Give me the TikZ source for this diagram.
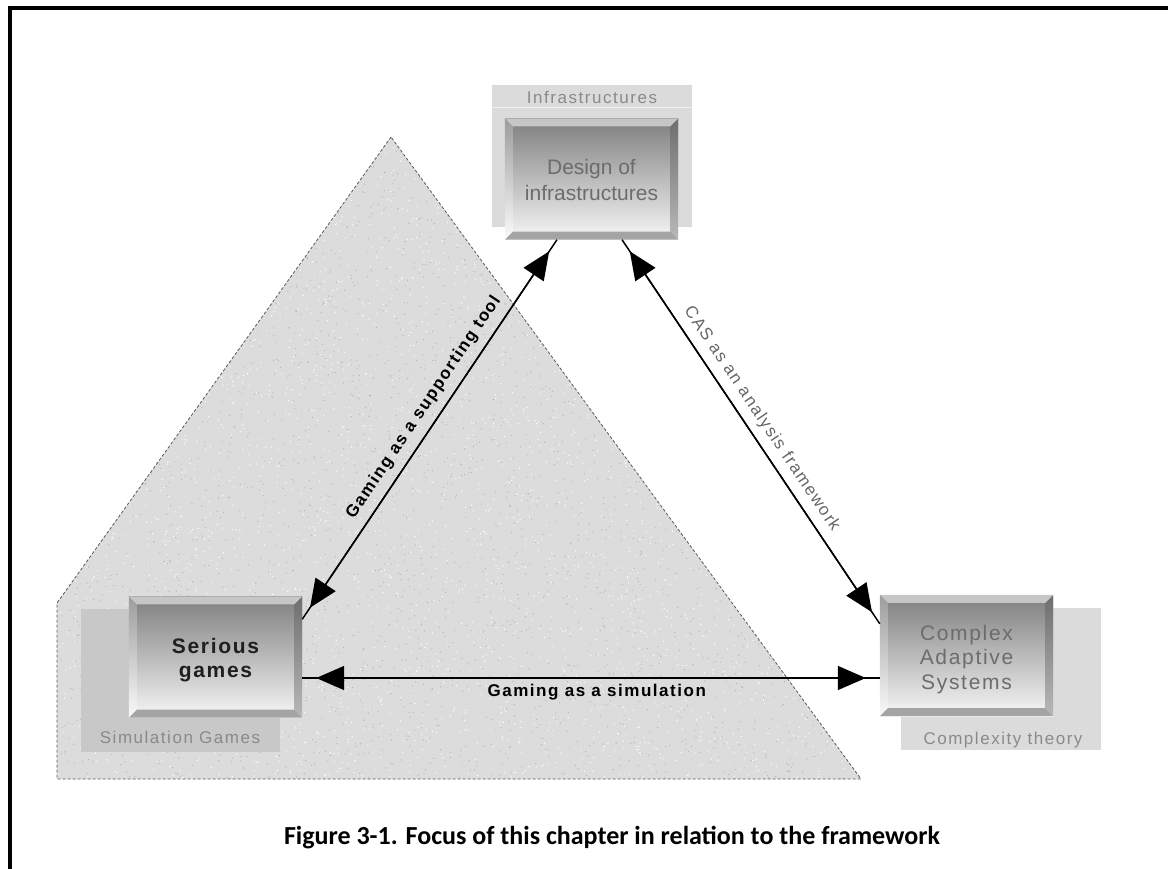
\documentclass[tikz,border=0pt]{standalone}
\usepackage{fontspec}
\setmainfont{Liberation Sans}
\newfontfamily\spaced[LetterSpace=9]{Liberation Sans}
\newfontfamily\spacedb[LetterSpace=8]{Liberation Sans}
\newfontfamily\capfont{Carlito}
\usetikzlibrary{arrows.meta,calc}
\definecolor{facetop}{HTML}{7E7E7E}
\definecolor{facebot}{HTML}{F7F7F7}
\definecolor{bgbox}{HTML}{DBDBDB}
\definecolor{simbg}{HTML}{C8C8C8}
\definecolor{lbl}{HTML}{8A8A8A}
\definecolor{boxtxt}{HTML}{6C6C6C}
\definecolor{noisebase}{HTML}{DCDCDC}
\definecolor{speck}{HTML}{B0B0B0}
\definecolor{bvtop}{HTML}{C6C6C6}
\definecolor{bvbot}{HTML}{A4A4A4}
\definecolor{bvrtop}{HTML}{6E6E6E}
\definecolor{bvrbot}{HTML}{B8B8B8}
\definecolor{bvltop}{HTML}{9C9C9C}
\definecolor{bvlbot}{HTML}{FAFAFA}
\definecolor{dashcol}{HTML}{5A5A5A}
\newcommand\bevelize[1]{%
  \shade[top color=bvltop,bottom color=bvlbot] (#1.north west) -- ([shift={(8pt,-8pt)}]#1.north west) -- ([shift={(8pt,8pt)}]#1.south west) -- (#1.south west) -- cycle;
  \shade[top color=bvrtop,bottom color=bvrbot] (#1.north east) -- ([shift={(-8pt,-8pt)}]#1.north east) -- ([shift={(-8pt,8pt)}]#1.south east) -- (#1.south east) -- cycle;
  \fill[bvtop] (#1.north west) -- (#1.north east) -- ([shift={(-8pt,-8pt)}]#1.north east) -- ([shift={(8pt,-8pt)}]#1.north west) -- cycle;
  \fill[bvbot] (#1.south west) -- (#1.south east) -- ([shift={(-8pt,8pt)}]#1.south east) -- ([shift={(8pt,8pt)}]#1.south west) -- cycle;
}
\begin{document}
\begin{tikzpicture}[x=1pt,y=-1pt,
  btn/.style={minimum width=173pt,minimum height=121pt,inner sep=0pt,top color=facetop,bottom color=facebot,draw=none},
  bgrect/.style={fill=bgbox,draw=none},
  bglabel/.style={anchor=base,text=lbl,inner sep=0pt,font=\spaced\fontsize{17}{20}\selectfont},
  boxtext/.style={align=center,inner sep=0pt,text=boxtxt},
  conn/.style={line width=1.5pt,draw=black},
  tips/.style={conn,{Triangle[length=28pt,width=24pt]}-{Triangle[length=28pt,width=24pt]},shorten <=14pt,shorten >=14pt},
  edgelabel/.style={inner sep=0pt,font=\spaced\fontsize{17}{20}\selectfont}]
\useasboundingbox (0,0) rectangle (1168,869);
% frame
\draw[line width=3.5pt,line join=miter] (10,869) -- (10,8) -- (1168,8);
% focus region
\begin{scope}
  \clip (391,137) -- (57,603) -- (57,779) -- (861,779) -- cycle;
  \fill[noisebase] (50,130) rectangle (870,790);
  \pgfmathsetseed{7}
  \foreach \i in {1,...,3500}{\fill[white] ({57+804*rnd},{137+642*rnd}) circle[radius=0.7pt];}
  \foreach \i in {1,...,3500}{\fill[speck] ({57+804*rnd},{137+642*rnd}) circle[radius=0.6pt];}
\end{scope}
\draw[dashcol,line width=0.8pt,dash pattern=on 3pt off 2pt] (391,137) -- (57,603) -- (57,779) -- (861,779) -- cycle;
% background boxes
\fill[bgrect] (492,85) rectangle (692,227);
\draw[white!55!bgbox,line width=1pt] (492,108) -- (692,108);
\node[bglabel] (infralbl) at (592,104) {Infrastructures};
\fill[simbg] (81,609) rectangle (280,752);
\node[bglabel] (simlbl) at (180,743) {Simulation Games};
\fill[bgrect] (901,608) rectangle (1101,750);
\node[bglabel] (cxlbl) at (1003,744) {Complexity theory};
% buttons
\node[btn] (design) at (591.5,179) {};
\node[btn] (serious) at (215.5,657) {};
\node[btn] (cas) at (966.5,655.5) {};
\bevelize{design}
\bevelize{serious}
\bevelize{cas}
\node[boxtext,font=\fontsize{21}{26}\selectfont] (designtxt) at ([yshift=-1pt]design.center) {Design of\\infrastructures};
\node[boxtext,text=black!88,font=\spacedb\bfseries\fontsize{21}{24}\selectfont] (serioustxt) at ([yshift=-3pt]serious.center) {Serious\\games};
\node[boxtext,font=\spacedb\fontsize{21}{24.5}\selectfont] (castxt) at ([yshift=-4pt]cas.center) {Complex\\Adaptive\\Systems};
% connectors
\path ([yshift=-23pt]serious.north east) coordinate (a1s) ([xshift=-34.5pt]design.south) coordinate (a1e);
\path ([xshift=30.5pt]design.south) coordinate (a2s) ([yshift=-29pt]cas.north west) coordinate (a2e);
\path ([yshift=-21pt]serious.east) coordinate (hs);
\path (hs -| cas.west) coordinate (he);
\draw[conn] (a1s) -- (a1e);
\draw[tips] (a1s) -- (a1e);
\draw[conn] (a2s) -- (a2e);
\draw[tips] (a2s) -- (a2e);
\draw[conn] (hs) -- (he);
\draw[tips] (hs) -- (he);
% labels
\path (a1s) -- (a1e) node[edgelabel,font=\spaced\bfseries\fontsize{17}{20}\selectfont,sloped,pos=0.533,above=9pt] (l1) {Gaming as a supporting tool};
\path (a2s) -- (a2e) node[edgelabel,text=black!60,sloped,pos=0.49,above=8pt] (l2) {CAS as an analysis framework};
\path (hs) -- (he) node[edgelabel,font=\spaced\bfseries\fontsize{17}{20}\selectfont,pos=0.51,below=6pt] (l3) {Gaming as a simulation};
% caption
\node[anchor=base,inner sep=0pt,font=\capfont\bfseries\fontsize{26}{31}\selectfont] (caption) at (612,844) {Figure 3-1. Focus of this chapter in relation to the framework};
\end{tikzpicture}
\end{document}
